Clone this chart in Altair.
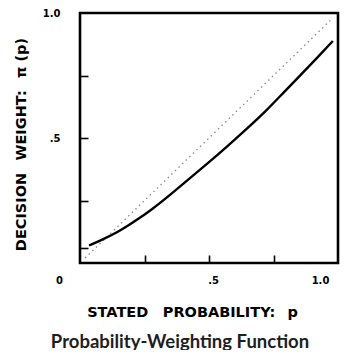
import altair as alt
import pandas as pd

# Decision-weight curve
p_curve = [0.035, 0.08, 0.15, 0.21, 0.28, 0.35, 0.42, 0.50, 0.58, 0.65, 0.72, 0.79, 0.86, 0.92, 0.98]
w_curve = [0.07, 0.09, 0.125, 0.165, 0.215, 0.273, 0.334, 0.403, 0.475, 0.54, 0.607, 0.683, 0.757, 0.822, 0.888]

# Identity (dotted) line
p_diag = [0.02, 0.98]
w_diag = [0.02, 0.98]

# Axis values
x_label_values = [0, 0.5, 1.0]
y_label_values = [0.5, 1.0]
x_tick_values = [0.25, 0.5, 0.75]
y_tick_values = [0.06, 0.25, 0.5, 0.75]

x_title = "STATED\u2003PROBABILITY:\u2002\u00a0p"
y_title = "DECISION\u2002\u00a0WEIGHT:\u2002\u00a0\u03c0 (p)"
caption = "Probability-Weighting Function"

curve_df = pd.DataFrame({"p": p_curve, "w": w_curve})
diag_df = pd.DataFrame({"p": p_diag, "w": w_diag})

xs = alt.Scale(domain=[0, 1], nice=False, zero=False)
ys = alt.Scale(domain=[0, 1], nice=False, zero=False)

lab_font = "DejaVu Sans"

x_main_axis = alt.Axis(
    orient="bottom", values=x_label_values,
    labelExpr="datum.value == 0 ? '0' : (datum.value == 1 ? '1.0' : '.5')",
    ticks=False, domain=False, grid=False, labelFlush=False, labelOverlap=False,
    labelPadding=12, labelFont=lab_font, labelFontSize=10, labelFontWeight="bold",
    labelColor="black", labelAlign="center",
    labelOffset={"condition": [{"test": "datum.value == 0", "value": -21},
                               {"test": "datum.value == 1", "value": -18}],
                 "value": 4},
    title=x_title, titleX=112, titleY=53, titleBaseline="alphabetic", titleAlign="center",
    titleFont=lab_font, titleFontSize=14.5, titleFontWeight="bold", titleColor="black",
)
y_main_axis = alt.Axis(
    orient="left", values=y_label_values,
    labelExpr="datum.value == 1 ? '1.0' : '.5'",
    ticks=False, domain=False, grid=False, labelFlush=False, labelOverlap=False,
    labelPadding=20, labelFont=lab_font, labelFontSize=10, labelFontWeight="bold",
    labelColor="black",
    title=y_title, titleX=-59, titleY=131, titleBaseline="middle", titleAlign="center",
    titleAngle=270,
    titleFont=lab_font, titleFontSize=14.5, titleFontWeight="bold", titleColor="black",
)
x_tick_axis = alt.Axis(
    orient="top", offset=-250, values=x_tick_values, labels=False, domain=False,
    grid=False, ticks=True, tickSize=8, tickWidth=1.6, tickColor="black", title=None,
)
y_tick_axis = alt.Axis(
    orient="right", offset=-258, values=y_tick_values, labels=False, domain=False,
    grid=False, ticks=True, tickSize=8, tickWidth=1.6, tickColor="black", title=None,
)

curve = alt.Chart(curve_df).mark_line(
    color="black", strokeWidth=2.4, interpolate="basis"
).encode(
    x=alt.X("p:Q", scale=xs, axis=x_main_axis),
    y=alt.Y("w:Q", scale=ys, axis=y_main_axis),
)

diag = alt.Chart(diag_df).mark_line(
    color="#8a8a8a", strokeWidth=1.3, strokeDash=[1.5, 3.5]
).encode(
    x=alt.X("p:Q", scale=xs, axis=x_tick_axis),
    y=alt.Y("w:Q", scale=ys, axis=y_tick_axis),
)

chart = alt.layer(diag, curve).resolve_axis(
    x="independent", y="independent"
).properties(
    width=258, height=250,
    background="white",
    autosize=alt.AutoSizeParams(type="none"),
    padding={"left": 72, "top": 5, "right": 3, "bottom": 87},
    title=alt.TitleParams(
        caption, orient="bottom", anchor="middle", frame="group", dx=-29, offset=14,
        font="Lato", fontSize=18.5, fontWeight="bold", color="#1e1e1e",
    ),
).configure_view(
    stroke="black", strokeWidth=2.6
)

chart.save("out.html", embed_options={"renderer": "svg", "actions": False})
